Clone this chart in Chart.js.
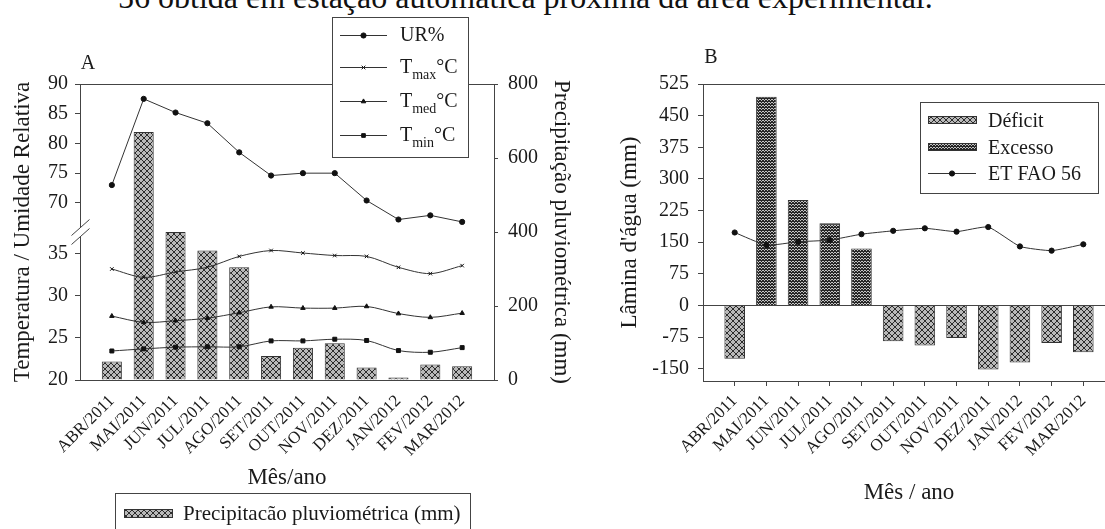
<!DOCTYPE html>
<html lang="pt-BR">
<head>
<meta charset="utf-8">
<title>Clima e balanço hídrico 2011-2012</title>
<script src="https://cdn.jsdelivr.net/npm/chart.js@4.4.1/dist/chart.umd.min.js"></script>
<style>
  html, body { margin: 0; padding: 0; background: #fff; }
  body { width: 1105px; height: 529px; overflow: hidden; position: relative;
         font-family: 'Liberation Serif', 'Times New Roman', serif; }
  #texto-topo { position: absolute; left: 118px; top: -19px; font-size: 32px; line-height: 32px;
                white-space: nowrap; color: #111; }
  #painel-a { position: absolute; left: 0; top: 0; width: 580px; height: 529px; }
  #painel-b { position: absolute; left: 580px; top: 0; width: 550px; height: 529px; }
</style>
</head>
<body>
<div id="texto-topo">56 obtida em estação automática próxima da área experimental.</div>
<div id="painel-a"><canvas id="grafico-a" width="580" height="529"></canvas></div>
<div id="painel-b"><canvas id="grafico-b" width="550" height="529"></canvas></div>
<script>
// meses do período avaliado
const meses = ['ABR/2011', 'MAI/2011', 'JUN/2011', 'JUL/2011', 'AGO/2011', 'SET/2011',
               'OUT/2011', 'NOV/2011', 'DEZ/2011', 'JAN/2012', 'FEV/2012', 'MAR/2012'];

// painel A: clima
const precipitacao = [50, 670, 400, 350, 305, 65, 87, 99, 34, 7, 42, 37];
const umidade = [73.0, 87.5, 85.2, 83.4, 78.5, 74.6, 75.0, 75.0, 70.4, 67.2, 67.9, 66.8];
const tMax = [33.2, 32.2, 32.85, 33.4, 34.7, 35.4, 35.1, 34.8, 34.7, 33.4, 32.65, 33.6];
const tMed = [27.6, 26.85, 27.05, 27.35, 28.0, 28.7, 28.55, 28.55, 28.75, 27.9, 27.45, 27.95];
const tMin = [23.45, 23.7, 23.9, 23.95, 23.95, 24.65, 24.65, 24.85, 24.7, 23.5, 23.3, 23.85];

// painel B: balanço hídrico
const deficit = [-126, null, null, null, null, -85, -95, -77, -152, -135, -89, -111];
const excesso = [null, 495, 250, 195, 135, null, null, null, null, null, null, null];
const etFao56 = [173, 143, 151, 155, 169, 177, 183, 175, 186, 140, 130, 145];

// marcas dos eixos
const ticksUR = [70, 75, 80, 85, 90];
const ticksTemp = [20, 25, 30, 35];
const ticksPrecip = [0, 200, 400, 600, 800];
const ticksLamina = [-150, -75, 0, 75, 150, 225, 300, 375, 450, 525];

const familia = "'Liberation Serif', 'Times New Roman', serif";
const corTexto = '#1a1a1a';
const corEixo = '#444';
const corLinha = '#333';

function serie(valores) {
  return valores.map((v, i) => ({ x: i, y: v }));
}

function marcas(lista) {
  return (scale) => { scale.ticks = lista.map(v => ({ value: v })); };
}

// hachura cruzada (precipitação e déficit)
function padraoCruzado() {
  const c = document.createElement('canvas');
  c.width = 6; c.height = 6;
  const g = c.getContext('2d');
  g.fillStyle = '#b9b9b9';
  g.fillRect(0, 0, 6, 6);
  g.fillStyle = '#2c2c2c';
  for (let i = 0; i < 6; i++) {
    g.fillRect(i, i, 1, 1);
    g.fillRect(5 - i, i, 1, 1);
  }
  return g.createPattern(c, 'repeat');
}

// pontilhado denso (excesso)
function padraoPontilhado() {
  const c = document.createElement('canvas');
  c.width = 3; c.height = 3;
  const g = c.getContext('2d');
  g.fillStyle = '#262626';
  g.fillRect(0, 0, 3, 3);
  g.fillStyle = '#c4c4c4';
  g.fillRect(1, 1, 1, 1);
  g.fillRect(0, 0, 1, 1);
  g.fillRect(2, 0, 1, 1);
  return g.createPattern(c, 'repeat');
}

function escrever(ctx, texto, x, y, fonte, opts) {
  opts = opts || {};
  ctx.save();
  ctx.translate(x, y);
  if (opts.rot) ctx.rotate(opts.rot);
  ctx.font = fonte;
  ctx.fillStyle = corTexto;
  ctx.textAlign = opts.align || 'center';
  ctx.textBaseline = opts.baseline || 'alphabetic';
  ctx.fillText(texto, 0, 0);
  ctx.restore();
}

function marcador(ctx, estilo, x, y, raio) {
  ctx.save();
  ctx.fillStyle = '#111';
  ctx.strokeStyle = '#111';
  ctx.lineWidth = 1;
  Chart.helpers.drawPoint(ctx, { pointStyle: estilo, radius: raio, borderWidth: 1, rotation: 0 }, x, y);
  ctx.restore();
}

// texto com índice subscrito, ex.: T max °C
function textoIndice(ctx, x, base, principal, indice, resto) {
  ctx.save();
  ctx.fillStyle = corTexto;
  ctx.textAlign = 'left';
  ctx.textBaseline = 'alphabetic';
  ctx.font = '20px ' + familia;
  ctx.fillText(principal, x, base);
  x += ctx.measureText(principal).width;
  if (indice) {
    ctx.font = '14px ' + familia;
    ctx.fillText(indice, x, base + 6);
    x += ctx.measureText(indice).width;
    ctx.font = '20px ' + familia;
  }
  if (resto) ctx.fillText(resto, x, base);
  ctx.restore();
}

function linhaLegenda(ctx, x0, x1, y, estilo) {
  ctx.save();
  ctx.strokeStyle = corLinha;
  ctx.lineWidth = 1;
  ctx.beginPath();
  ctx.moveTo(x0, y + 0.5);
  ctx.lineTo(x1, y + 0.5);
  ctx.stroke();
  ctx.restore();
  marcador(ctx, estilo, (x0 + x1) / 2, y + 0.5, 2.6);
}

function caixa(ctx, x, y, w, h) {
  ctx.save();
  ctx.fillStyle = '#fff';
  ctx.fillRect(x, y, w, h);
  ctx.strokeStyle = corEixo;
  ctx.lineWidth = 1;
  ctx.strokeRect(x + 0.5, y + 0.5, w, h);
  ctx.restore();
}

function amostra(ctx, x, y, w, h, padrao) {
  ctx.save();
  ctx.fillStyle = padrao;
  ctx.fillRect(x, y, w, h);
  ctx.strokeStyle = corLinha;
  ctx.lineWidth = 1;
  ctx.strokeRect(x + 0.5, y + 0.5, w, h);
  ctx.restore();
}

function desenhar() {
  Chart.defaults.font.family = familia;
  Chart.defaults.color = corTexto;

  const hachura = padraoCruzado();
  const pontilhado = padraoPontilhado();

  const eixoX = {
    type: 'linear', min: -1, max: 12, offset: false,
    afterBuildTicks: marcas(meses.map((m, i) => i)),
    afterFit: (s) => { s.height = 100; },
    border: { display: true, color: corEixo },
    ticks: {
      callback: (v) => meses[v], autoSkip: false, minRotation: 45, maxRotation: 45,
      font: { size: 17 }, color: corTexto
    }
  };

  // ---------- painel A ----------
  const extrasA = {
    id: 'extrasA',
    afterDatasetsDraw(chart) {
      const { ctx, chartArea: ca, scales } = chart;
      ctx.save();
      ctx.strokeStyle = corEixo;
      ctx.lineWidth = 1;
      // borda superior do gráfico
      ctx.beginPath();
      ctx.moveTo(ca.left, Math.round(ca.top) + 0.5);
      ctx.lineTo(ca.right, Math.round(ca.top) + 0.5);
      ctx.stroke();
      // quebra do eixo entre UR e temperatura
      const xq = Math.round(ca.left) + 0.5;
      const yq = scales.yTemp.top;
      ctx.fillStyle = '#fff';
      ctx.fillRect(xq - 2, yq - 4.5, 4, 9);
      ctx.beginPath();
      ctx.moveTo(xq - 9, yq - 4.5 + 8); ctx.lineTo(xq + 9, yq - 4.5 - 8);
      ctx.moveTo(xq - 9, yq + 4.5 + 8); ctx.lineTo(xq + 9, yq + 4.5 - 8);
      ctx.stroke();
      ctx.restore();
    },
    afterDraw(chart) {
      const { ctx, chartArea: ca } = chart;
      const meio = (ca.top + ca.bottom) / 2;
      escrever(ctx, 'A', ca.left + 8, ca.top - 15, '20px ' + familia);
      escrever(ctx, 'Temperatura / Umidade Relativa', ca.left - 51, meio, '23px ' + familia, { rot: -Math.PI / 2 });
      escrever(ctx, 'Precipitação pluviométrica (mm)', ca.right + 61, meio, '23px ' + familia, { rot: Math.PI / 2 });
      escrever(ctx, 'Mês/ano', (ca.left + ca.right) / 2, ca.bottom + 104, '23px ' + familia);

      // legenda das linhas
      caixa(ctx, 332, 17, 136, 140);
      const linhas = [
        { y: 35, estilo: 'circle', t: 'UR%', i: '', r: '' },
        { y: 67, estilo: 'crossRot', t: 'T', i: 'max', r: '°C' },
        { y: 101, estilo: 'triangle', t: 'T', i: 'med', r: '°C' },
        { y: 135, estilo: 'rect', t: 'T', i: 'min', r: '°C' }
      ];
      linhas.forEach(l => {
        linhaLegenda(ctx, 340, 387, l.y, l.estilo);
        textoIndice(ctx, 400, l.y + 6, l.t, l.i, l.r);
      });

      // legenda das barras
      caixa(ctx, 115, 493, 355, 60);
      amostra(ctx, 124, 509, 48, 8, hachura);
      escrever(ctx, 'Precipitacão pluviométrica (mm)', 183, 520, '21px ' + familia, { align: 'left' });
    }
  };

  const eixoY = (extra) => Object.assign({
    position: 'left',
    afterFit: (s) => { s.width = 60; },
    grid: { display: true, drawOnChartArea: false, drawTicks: true, tickLength: 5, color: corEixo },
    border: { display: true, color: corEixo },
    ticks: { autoSkip: false, padding: 7, font: { size: 20 }, color: corTexto }
  }, extra);

  new Chart(document.getElementById('grafico-a'), {
    type: 'bar',
    data: {
      datasets: [
        { type: 'line', label: 'UR%', data: serie(umidade), yAxisID: 'yUR', order: 1,
          borderColor: corLinha, borderWidth: 1, tension: 0,
          pointStyle: 'circle', pointRadius: 2.6, pointBackgroundColor: '#111', pointBorderColor: '#111' },
        { type: 'line', label: 'Tmax °C', data: serie(tMax), yAxisID: 'yTemp', order: 1,
          borderColor: corLinha, borderWidth: 1, tension: 0.3,
          pointStyle: 'crossRot', pointRadius: 2.5, pointBorderWidth: 1, pointBorderColor: '#111' },
        { type: 'line', label: 'Tmed °C', data: serie(tMed), yAxisID: 'yTemp', order: 1,
          borderColor: corLinha, borderWidth: 1, tension: 0.3,
          pointStyle: 'triangle', pointRadius: 2.6, pointBackgroundColor: '#111', pointBorderColor: '#111' },
        { type: 'line', label: 'Tmin °C', data: serie(tMin), yAxisID: 'yTemp', order: 1,
          borderColor: corLinha, borderWidth: 1, tension: 0.3,
          pointStyle: 'rect', pointRadius: 2.8, pointBackgroundColor: '#111', pointBorderColor: '#111' },
        { type: 'bar', label: 'Precipitacão pluviométrica (mm)', data: serie(precipitacao), yAxisID: 'yPrecip', order: 2,
          backgroundColor: hachura, borderColor: corLinha, borderWidth: 1,
          barPercentage: 0.63, categoryPercentage: 1 }
      ]
    },
    options: {
      responsive: false, animation: false, events: [],
      layout: { padding: { left: 20, right: 26, top: 84, bottom: 49 } },
      plugins: { legend: { display: false }, tooltip: { enabled: false } },
      scales: {
        x: Object.assign({}, eixoX, {
          grid: { display: true, offset: false, drawOnChartArea: false, drawTicks: false },
          ticks: Object.assign({}, eixoX.ticks, { padding: 11 })
        }),
        yTemp: eixoY({ stack: 'esq', stackWeight: 1, weight: 0, min: 20, max: 37.6,
                       afterBuildTicks: marcas(ticksTemp) }),
        yUR: eixoY({ stack: 'esq', stackWeight: 1, weight: 1, min: 65.1, max: 90,
                     afterBuildTicks: marcas(ticksUR) }),
        yPrecip: {
          position: 'right', min: 0, max: 800,
          afterBuildTicks: marcas(ticksPrecip),
          afterFit: (s) => { s.width = 60; },
          grid: { display: true, drawOnChartArea: false, drawTicks: true, tickLength: 4, color: corEixo },
          border: { display: true, color: corEixo },
          ticks: { autoSkip: false, padding: 10, font: { size: 20 }, color: corTexto }
        }
      }
    },
    plugins: [extrasA]
  });

  // ---------- painel B ----------
  const extrasB = {
    id: 'extrasB',
    afterDatasetsDraw(chart) {
      const { ctx, chartArea: ca } = chart;
      ctx.save();
      ctx.strokeStyle = corEixo;
      ctx.lineWidth = 1;
      ctx.beginPath();
      ctx.moveTo(ca.left, Math.round(ca.top) + 0.5);
      ctx.lineTo(ca.right, Math.round(ca.top) + 0.5);
      ctx.stroke();
      ctx.restore();
    },
    afterDraw(chart) {
      const { ctx, chartArea: ca } = chart;
      escrever(ctx, 'B', ca.left + 8, ca.top - 21, '20px ' + familia);
      escrever(ctx, "Lâmina d'água (mm)", ca.left - 67, (ca.top + ca.bottom) / 2, '23px ' + familia, { rot: -Math.PI / 2 });
      escrever(ctx, 'Mês / ano', (ca.left + ca.right) / 2, ca.bottom + 118, '23px ' + familia);

      caixa(ctx, 340, 102, 178, 91);
      amostra(ctx, 348, 116, 48, 7, hachura);
      textoIndice(ctx, 408, 127, 'Déficit');
      amostra(ctx, 348, 143, 48, 7, pontilhado);
      textoIndice(ctx, 408, 154, 'Excesso');
      linhaLegenda(ctx, 348, 396, 173, 'circle');
      textoIndice(ctx, 408, 180, 'ET FAO 56');
    }
  };

  new Chart(document.getElementById('grafico-b'), {
    type: 'bar',
    data: {
      datasets: [
        { type: 'line', label: 'ET FAO 56', data: serie(etFao56), yAxisID: 'y', order: 1,
          borderColor: corLinha, borderWidth: 1, tension: 0.15,
          pointStyle: 'circle', pointRadius: 2.6, pointBackgroundColor: '#111', pointBorderColor: '#111' },
        { type: 'bar', label: 'Déficit', data: serie(deficit), yAxisID: 'y', order: 2, grouped: false,
          backgroundColor: hachura, borderColor: corLinha, borderWidth: 1,
          barPercentage: 0.65, categoryPercentage: 1 },
        { type: 'bar', label: 'Excesso', data: serie(excesso), yAxisID: 'y', order: 2, grouped: false,
          backgroundColor: pontilhado, borderColor: corLinha, borderWidth: 1,
          barPercentage: 0.65, categoryPercentage: 1 }
      ]
    },
    options: {
      responsive: false, animation: false, events: [],
      layout: { padding: { left: 63, right: 15, top: 84, bottom: 48 } },
      plugins: { legend: { display: false }, tooltip: { enabled: false } },
      scales: {
        x: Object.assign({}, eixoX, {
          grid: { display: true, offset: false, drawOnChartArea: false, drawTicks: true, tickLength: 5, color: corEixo },
          ticks: Object.assign({}, eixoX.ticks, { padding: 5 })
        }),
        y: {
          position: 'left', min: -179, max: 525,
          afterBuildTicks: marcas(ticksLamina),
          afterFit: (s) => { s.width = 60; },
          grid: {
            display: true, drawOnChartArea: true, drawTicks: true, tickLength: 5,
            color: (c) => (c.tick && c.tick.value === 0 ? corEixo : 'rgba(0,0,0,0)'),
            tickColor: corEixo
          },
          border: { display: true, color: corEixo },
          ticks: { autoSkip: false, padding: 9, font: { size: 20 }, color: corTexto }
        }
      }
    },
    plugins: [extrasB]
  });
}

// a fonte serifada precisa estar pronta antes de desenhar no canvas
Promise.all([
  document.fonts.load("20px 'Liberation Serif'"),
  document.fonts.load("italic 20px 'Liberation Serif'")
]).then(desenhar, desenhar);
</script>
</body>
</html>
